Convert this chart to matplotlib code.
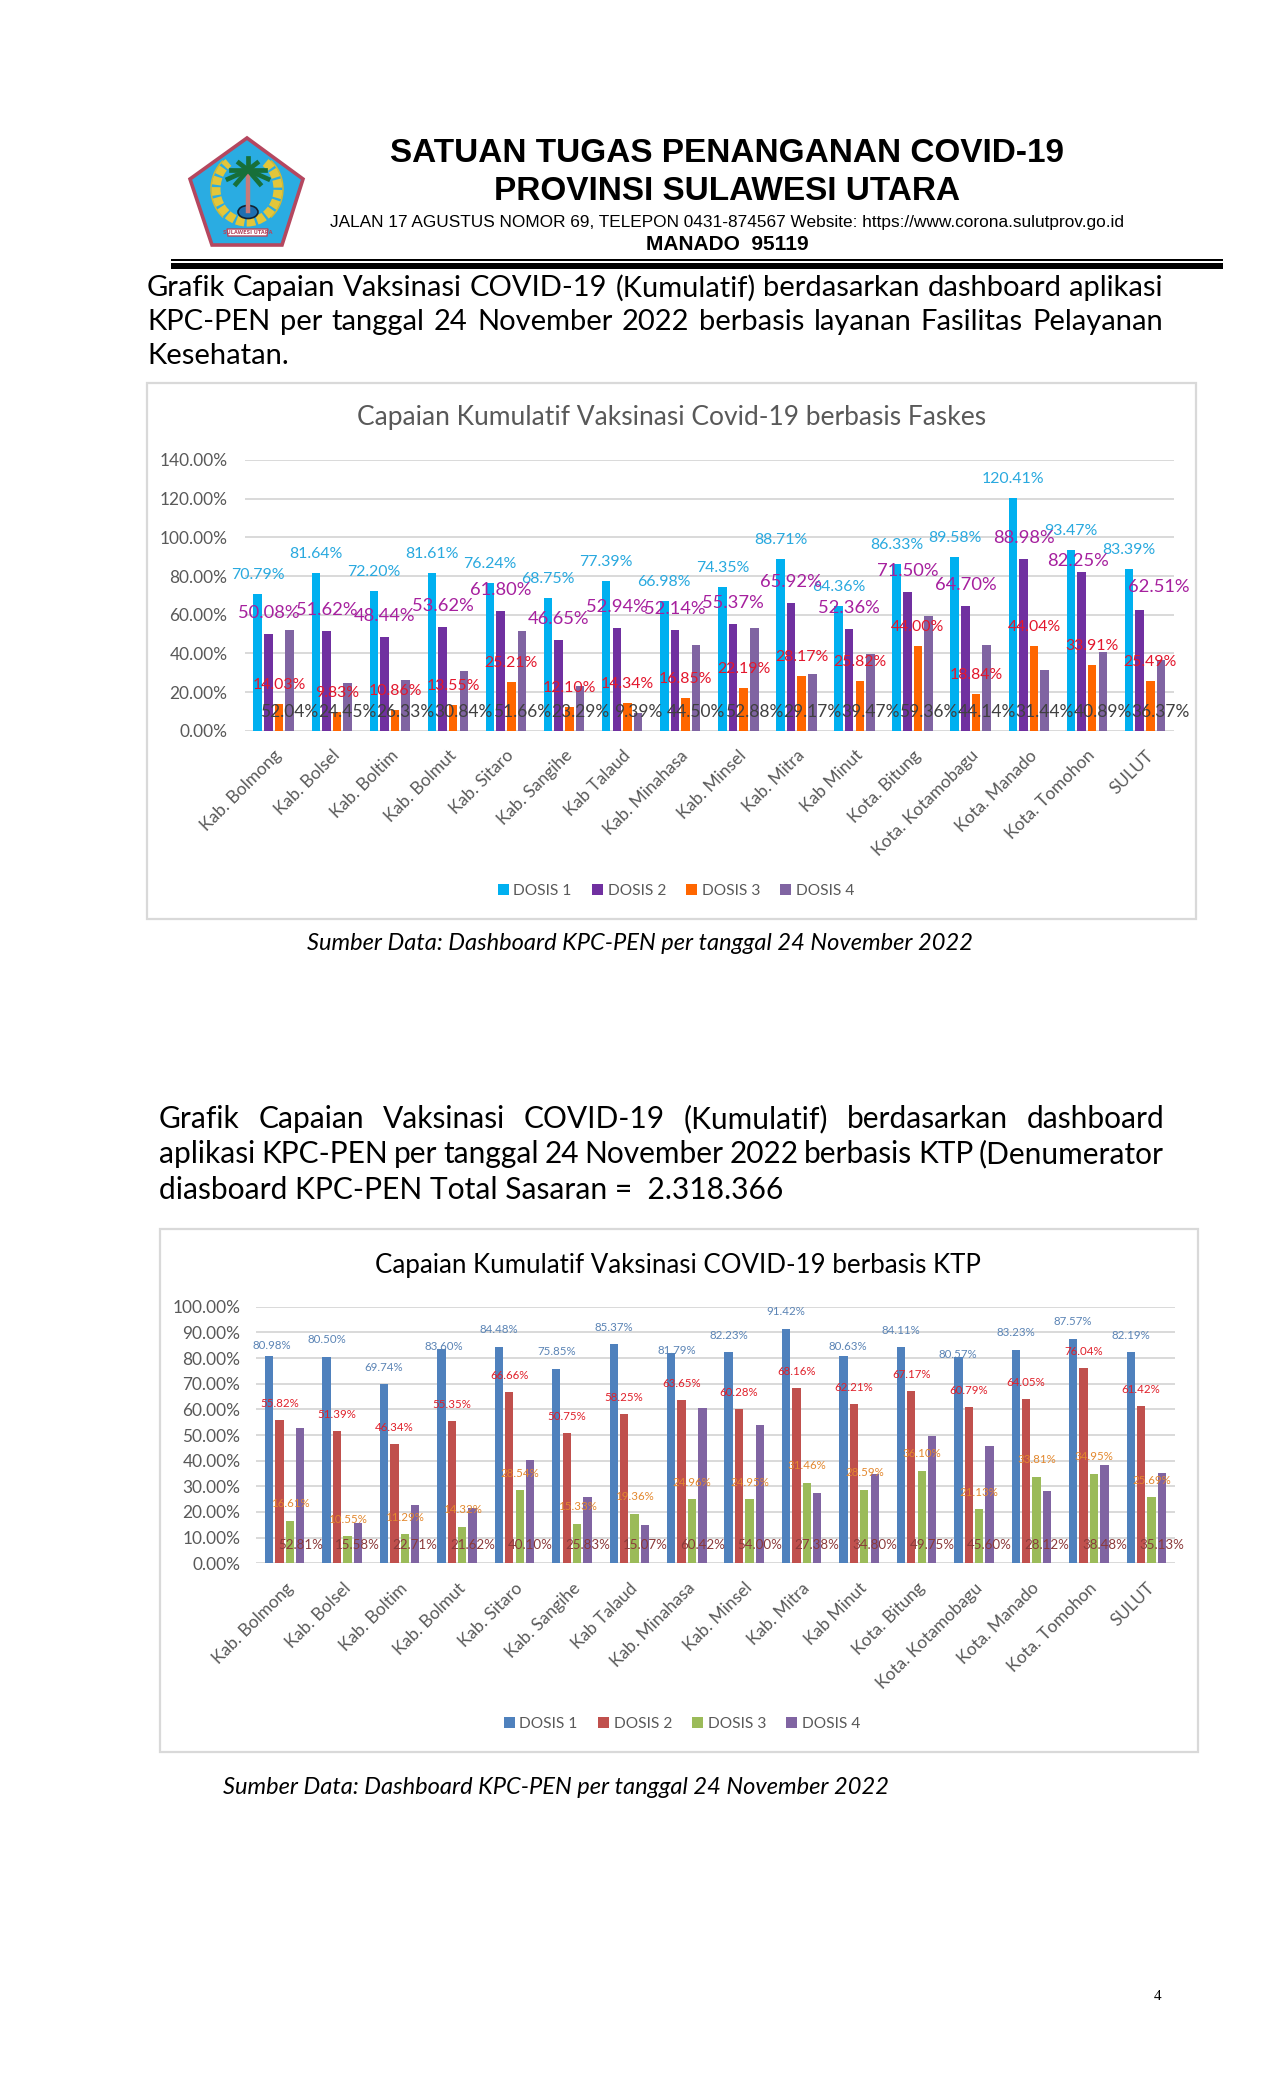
import matplotlib
matplotlib.use("Agg")
import matplotlib.pyplot as plt
from matplotlib.patches import Polygon, Rectangle, Ellipse, Arc
from matplotlib.transforms import ScaledTranslation

W, H = 1275, 2100

categories = ["Kab. Bolmong", "Kab. Bolsel", "Kab. Boltim", "Kab. Bolmut", "Kab. Sitaro", "Kab. Sangihe",
              "Kab Talaud", "Kab. Minahasa", "Kab. Minsel", "Kab. Mitra", "Kab Minut", "Kota. Bitung",
              "Kota. Kotamobagu", "Kota. Manado", "Kota. Tomohon", "SULUT"]
series_names = ["DOSIS 1", "DOSIS 2", "DOSIS 3", "DOSIS 4"]

# chart 1, faskes
faskes_d1 = [70.79, 81.64, 72.20, 81.61, 76.24, 68.75, 77.39, 66.98, 74.35, 88.71, 64.36, 86.33, 89.58, 120.41, 93.47, 83.39]
faskes_d2 = [50.08, 51.62, 48.44, 53.62, 61.80, 46.65, 52.94, 52.14, 55.37, 65.92, 52.36, 71.50, 64.70, 88.98, 82.25, 62.51]
faskes_d3 = [14.03, 9.83, 10.86, 13.55, 25.21, 12.10, 14.34, 16.85, 22.19, 28.17, 25.82, 44.00, 18.84, 44.04, 33.91, 25.49]
faskes_d4 = [52.04, 24.45, 26.33, 30.84, 51.66, 23.29, 9.39, 44.50, 52.88, 29.17, 39.47, 59.36, 44.14, 31.44, 40.89, 36.37]
faskes_ticks = [0, 20, 40, 60, 80, 100, 120, 140]

# chart 2, ktp
ktp_d1 = [80.98, 80.50, 69.74, 83.60, 84.48, 75.85, 85.37, 81.79, 82.23, 91.42, 80.63, 84.11, 80.57, 83.23, 87.57, 82.19]
ktp_d2 = [55.82, 51.39, 46.34, 55.35, 66.66, 50.75, 58.25, 63.65, 60.28, 68.16, 62.21, 67.17, 60.79, 64.05, 76.04, 61.42]
ktp_d3 = [16.61, 10.55, 11.29, 14.32, 28.54, 15.33, 19.36, 24.96, 24.95, 31.46, 28.59, 36.10, 21.13, 33.81, 34.95, 25.69]
ktp_d4 = [52.81, 15.58, 22.71, 21.62, 40.10, 25.83, 15.07, 60.42, 54.00, 27.38, 34.80, 49.75, 45.60, 28.12, 38.48, 35.13]
ktp_ticks = [0, 10, 20, 30, 40, 50, 60, 70, 80, 90, 100]

# labels that were dragged by hand in the original: (series, district): (dx, dy) in pixels
faskes_nudges = {(1, 15): (19, 23), (1, 14): (-4, 11)}
ktp_nudges = {(0, 0): (2.4, 10), (0, 3): (2.4, 2), (0, 7): (5.5, 3), (0, 10): (4.8, 10), (0, 12): (-0.7, 2)}

GREY = "#595959"
BODY = "Lato"
PX = 0.72  # one pixel in points at dpi 100

fig = plt.figure(figsize=(W / 100, H / 100), dpi=100, facecolor="white")
page = fig.add_axes([0, 0, 1, 1])
page.set_xlim(0, W)
page.set_ylim(H, 0)
page.axis("off")
renderer = fig.canvas.get_renderer()


def px_axes(left, right, top, bottom):
    ax = fig.add_axes([left / W, 1 - bottom / H, (right - left) / W, (bottom - top) / H])
    ax.patch.set_alpha(0)
    return ax


def justify(words, x0, x1, y, size):
    # spread the words over the line like the justified paragraph in the document
    items = [page.text(0, y, w, fontsize=size, family=BODY, va="center", color="black") for w in words]
    widths = [t.get_window_extent(renderer).width for t in items]
    gap = (x1 - x0 - sum(widths)) / (len(words) - 1)
    x = x0
    for t, w in zip(items, widths):
        t.set_x(x)
        x += w + gap


def draw_logo():
    page.add_patch(Polygon([(247, 138), (303, 179), (282, 245), (212, 245), (190, 179)],
                           facecolor="#2AACE2", edgecolor="#B5475F", linewidth=2.6))
    # wreath, open at the top
    page.add_patch(Arc((247, 189), 62, 66, theta1=-55, theta2=235, color="#E3C63A", linewidth=6.5, linestyle=(0, (0.9, 0.25))))
    page.add_patch(Arc((247, 189), 72, 76, theta1=-50, theta2=50, color="#D7B92E", linewidth=1))
    page.add_patch(Arc((247, 189), 72, 76, theta1=130, theta2=230, color="#D7B92E", linewidth=1))
    page.add_patch(Ellipse((248, 212), 20, 13, facecolor="#1E6FB0", edgecolor="#123", linewidth=1.2))
    page.plot([248, 248], [172, 211], color="#C77A7A", linewidth=3.2)
    for dx, dy in [(-20, 9), (-17, 0), (-9, -7), (0, -12), (9, -7), (17, 0), (20, 9), (-12, 14), (12, 14)]:
        page.plot([248, 248 + dx], [170, 170 + dy], color="#17703A", linewidth=3.4)
    page.add_patch(Polygon([(227, 229), (268, 229), (267, 236), (228, 236)], facecolor="white", edgecolor="#B5475F", linewidth=1))
    page.text(247.5, 232.5, "SULAWESI UTARA", fontsize=3.6, color="#B5475F", ha="center", va="center", fontweight="bold")


def draw_chart(ax, series, colors, label_colors, label_sizes, label_offsets, nudges, ticks, legend_xy, pitch, width, ypad):
    n = len(categories)
    for i, (vals, col) in enumerate(zip(series, colors)):
        xs = [k + (i - 1.5) * pitch for k in range(n)]
        ax.bar(xs, vals, width=width, color=col, zorder=3, label=series_names[i])
        for k, (x, v) in enumerate(zip(xs, vals)):
            dx, dy = nudges.get((i, k), (0, label_offsets[i]))
            # the dosis 4 labels sit at a fixed height inside the base
            anchor = (x, 0) if i == 3 else (x, v)
            ax.annotate("%.2f%%" % v, anchor, xytext=(dx * PX, dy * PX), textcoords="offset points",
                        ha="center", va="center", fontsize=label_sizes[i], color=label_colors[i], family=BODY, zorder=5)
    ax.set_xlim(-0.5, n - 0.5)
    ax.set_ylim(0, ticks[-1])
    ax.set_yticks(ticks)
    ax.set_yticklabels(["%.2f%%" % t for t in ticks], fontsize=12.4, color=GREY, family=BODY)
    ax.set_xticks(range(n))
    ax.set_xticklabels(categories, rotation=45, ha="right", rotation_mode="anchor", fontsize=12.5, color=GREY, family=BODY)
    shift = ScaledTranslation(-2.5 / 100, 0, fig.dpi_scale_trans)
    for lab in ax.get_xticklabels():
        lab.set_transform(lab.get_transform() + shift)
    ax.tick_params(axis="both", length=0)
    ax.tick_params(axis="x", pad=12)
    ax.tick_params(axis="y", pad=ypad)
    ax.grid(axis="y", color="#D9D9D9", linewidth=1.4, zorder=0)
    for s in ax.spines.values():
        s.set_visible(False)
    ax.legend(loc="center", bbox_to_anchor=(legend_xy[0] / W, 1 - legend_xy[1] / H), bbox_transform=fig.transFigure,
              ncol=4, frameon=False, prop={"family": BODY, "size": 11.2}, labelcolor=GREY,
              handlelength=0.7, handleheight=0.75, handletextpad=0.3, columnspacing=1.3)


# letterhead
draw_logo()
page.text(727, 154, "SATUAN TUGAS PENANGANAN COVID-19", fontsize=24, family="Liberation Sans", fontweight="bold", ha="center", va="center")
page.text(727, 192, "PROVINSI SULAWESI UTARA", fontsize=24, family="Liberation Sans", fontweight="bold", ha="center", va="center")
page.text(727, 222, "JALAN 17 AGUSTUS NOMOR 69, TELEPON 0431-874567 Website: https://www.corona.sulutprov.go.id",
          fontsize=12.45, family="Liberation Sans", ha="center", va="center")
page.text(727, 244, "MANADO  95119", fontsize=15, family="Liberation Sans", fontweight="bold", ha="center", va="center")
page.add_patch(Rectangle((171, 259), 1052, 2, color="black", linewidth=0))
page.add_patch(Rectangle((171, 263), 1052, 6, color="black", linewidth=0))

# first paragraph
justify("Grafik Capaian Vaksinasi COVID-19 (Kumulatif) berdasarkan dashboard aplikasi".split(), 147, 1163, 288, 21)
justify("KPC-PEN per tanggal 24 November 2022 berbasis layanan Fasilitas Pelayanan".split(), 147, 1163, 322, 21)
page.text(147, 356, "Kesehatan.", fontsize=21, family=BODY, va="center")

# first chart
page.add_patch(Rectangle((147, 383), 1049, 536, facecolor="white", edgecolor="#D9D9D9", linewidth=1.6))
page.text(672, 418, "Capaian Kumulatif Vaksinasi Covid-19 berbasis Faskes", fontsize=19, color=GREY, family=BODY, ha="center", va="center")
ax1 = px_axes(244.6, 1174, 460, 730.7)
draw_chart(ax1, [faskes_d1, faskes_d2, faskes_d3, faskes_d4],
           ["#00B0F0", "#7030A0", "#FF6600", "#8064A2"],
           ["#29A9DF", "#A6209E", "#E3172D", "#404040"],
           [11.4, 13.2, 11.4, 12.5], [19, 21, 19, 19], faskes_nudges, faskes_ticks, (676, 891), 0.183, 0.147, 12.4)
page.text(640, 943, "Sumber Data: Dashboard KPC-PEN per tanggal 24 November 2022", fontsize=17, family=BODY, style="italic", ha="center", va="center")

# second paragraph
justify("Grafik Capaian Vaksinasi COVID-19 (Kumulatif) berdasarkan dashboard".split(), 159, 1164, 1119, 21.5)
justify("aplikasi KPC-PEN per tanggal 24 November 2022 berbasis KTP (Denumerator".split(), 159, 1164, 1154, 21.5)
page.text(159, 1190, "diasboard KPC-PEN Total Sasaran =  2.318.366", fontsize=21.6, family=BODY, va="center")

# second chart
page.add_patch(Rectangle((160, 1229), 1038, 523, facecolor="white", edgecolor="#D9D9D9", linewidth=1.6))
page.text(678, 1266, "Capaian Kumulatif Vaksinasi COVID-19 berbasis KTP", fontsize=18.6, color="black", family=BODY, ha="center", va="center")
ax2 = px_axes(256, 1175, 1306.7, 1563.3)
draw_chart(ax2, [ktp_d1, ktp_d2, ktp_d3, ktp_d4],
           ["#4F81BD", "#C0504D", "#9BBB59", "#8064A2"],
           ["#5B84B5", "#E0202A", "#E3882E", "#8B3A3A"],
           [8.3, 8.3, 8.3, 9.6], [17, 16.5, 17, 18], ktp_nudges, ktp_ticks, (682, 1724), 0.181, 0.145, 11.2)
page.text(556, 1788, "Sumber Data: Dashboard KPC-PEN per tanggal 24 November 2022", fontsize=17, family=BODY, style="italic", ha="center", va="center")

page.text(1158, 1996, "4", fontsize=11, family="Liberation Serif", ha="center", va="center")

fig.savefig("out.png", dpi=100)
